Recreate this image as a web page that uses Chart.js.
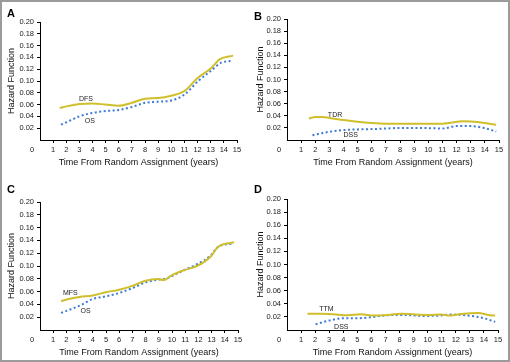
<!DOCTYPE html>
<html>
<head>
<meta charset="utf-8">
<script src="https://cdn.jsdelivr.net/npm/chart.js@4/dist/chart.umd.min.js"></script>
<style>
  body { margin: 0; background: #fff; }
  #marco { position: absolute; left: 0; top: 0; width: 510px; height: 362px; box-sizing: border-box; border: 2px solid #9b9b9b; }
  canvas { position: absolute; }
</style>
</head>
<body>
<div id="marco"></div>
<canvas id="chart_a" width="247" height="181" style="left:0;top:0"></canvas>
<canvas id="chart_b" width="263" height="181" style="left:247px;top:0"></canvas>
<canvas id="chart_c" width="247" height="181" style="left:0;top:181px"></canvas>
<canvas id="chart_d" width="263" height="181" style="left:247px;top:181px"></canvas>
<script>
// Panel A: DFS / OS
var aDfsYears  = [1.5, 2, 3, 4, 5, 6, 7, 8, 9, 10, 11, 12, 13, 13.7, 14.7];
var aDfsHazard = [0.054, 0.057, 0.061, 0.062, 0.060, 0.058, 0.063, 0.070, 0.071, 0.075, 0.083, 0.105, 0.121, 0.137, 0.143];
var aOsYears   = [1.6, 2, 3, 4, 5, 6, 7, 8, 9, 10, 11, 12, 13, 13.8, 14.6];
var aOsHazard  = [0.026, 0.030, 0.040, 0.046, 0.049, 0.051, 0.056, 0.063, 0.065, 0.067, 0.077, 0.099, 0.117, 0.131, 0.134];

// Panel B: TDR / DSS
var bTdrYears  = [1.55, 2, 2.5, 3, 4, 5, 6, 7, 8, 9, 10, 11, 11.7, 12.4, 13, 14, 14.8];
var bTdrHazard = [0.0355, 0.038, 0.038, 0.0365, 0.033, 0.030, 0.028, 0.027, 0.027, 0.027, 0.027, 0.0267, 0.029, 0.031, 0.0305, 0.028, 0.025];
var bDssYears  = [1.8, 3, 4, 5, 6, 7, 8, 9, 10, 11, 12, 13, 14, 14.8];
var bDssHazard = [0.008, 0.0136, 0.0164, 0.0175, 0.018, 0.019, 0.020, 0.020, 0.0196, 0.019, 0.023, 0.023, 0.0196, 0.014];

// Panel C: MFS / OS
var cMfsYears  = [1.6, 2.1, 3, 4, 5, 6, 7, 8, 8.9, 9.4, 9.9, 10.9, 11.9, 12.9, 13.5, 14.7];
var cMfsHazard = [0.045, 0.048, 0.0516, 0.054, 0.059, 0.063, 0.069, 0.077, 0.0795, 0.078, 0.0846, 0.0934, 0.100, 0.114, 0.130, 0.137];
var cOsYears   = [1.6, 3, 4, 5, 6, 7, 8, 8.9, 9.6, 10.15, 10.9, 11.9, 12.9, 13.5, 14.6];
var cOsHazard  = [0.0267, 0.038, 0.0484, 0.0526, 0.0578, 0.0655, 0.0743, 0.0785, 0.0805, 0.086, 0.0934, 0.103, 0.1157, 0.130, 0.135];

// Panel D: TTM / DSS
var dTtmYears  = [1.45, 2.4, 3.3, 4.3, 5.25, 6.2, 7.2, 8.1, 9.1, 10, 11, 11.5, 12.4, 13.6, 14.3, 14.8];
var dTtmHazard = [0.025, 0.025, 0.024, 0.0226, 0.024, 0.022, 0.023, 0.025, 0.0236, 0.023, 0.0236, 0.022, 0.0246, 0.026, 0.023, 0.022];
var dDssYears  = [2.03, 3.1, 4.06, 5, 6, 6.9, 7.9, 8.8, 9.8, 10.75, 11.7, 12.7, 13.4, 14.1, 14.8];
var dDssHazard = [0.0088, 0.015, 0.018, 0.018, 0.0195, 0.022, 0.023, 0.0225, 0.0215, 0.022, 0.0236, 0.0225, 0.0205, 0.0174, 0.0124];

var amarillo = '#cfbf2c';
var azul = '#3f7bd6';
var fuente = '"Liberation Sans", Arial, sans-serif';

Chart.defaults.font.family = fuente;
Chart.defaults.color = '#222';

function toPoints(xs, ys) {
  return xs.map(function(x, i) { return { x: x, y: ys[i] }; });
}

// panel letter, curve names and the shared "0" at the origin
var panelText = {
  id: 'panelText',
  afterDraw: function(chart, args, opts) {
    var ctx = chart.ctx;
    var xs = chart.scales.x, ys = chart.scales.y;
    ctx.save();
    ctx.fillStyle = '#000';
    ctx.font = 'bold 11px ' + fuente;
    ctx.textAlign = 'left';
    ctx.textBaseline = 'top';
    ctx.fillText(opts.letter, 7, opts.letterTop);

    ctx.fillStyle = '#222';
    ctx.font = '7.5px ' + fuente;
    ctx.textAlign = 'center';
    ctx.textBaseline = 'middle';
    ctx.fillText('0', xs.getPixelForValue(0) - 8, xs.top + opts.zeroOffset);

    ctx.font = '7px ' + fuente;
    opts.names.forEach(function(n) {
      ctx.fillText(n.text, xs.getPixelForValue(n.x), ys.getPixelForValue(n.y));
    });
    ctx.restore();
  }
};

function hazardChart(id, p) {
  var ctx = document.getElementById(id).getContext('2d');
  return new Chart(ctx, {
    type: 'line',
    data: {
      datasets: [
        { label: p.names[0].text, data: p.solid, borderColor: amarillo, borderWidth: 2,
          pointRadius: 0, cubicInterpolationMode: 'monotone', fill: false },
        { label: p.names[1].text, data: p.dotted, borderColor: azul, borderWidth: 2, borderDash: [2, 2.5],
          pointRadius: 0, cubicInterpolationMode: 'monotone', fill: false }
      ]
    },
    options: {
      responsive: false,
      animation: false,
      layout: { padding: { top: p.top, right: p.right, left: 0, bottom: 0 } },
      plugins: {
        legend: { display: false },
        tooltip: { enabled: false },
        panelText: { letter: p.letter, letterTop: p.letterTop, names: p.names, zeroOffset: 10 }
      },
      scales: {
        x: {
          type: 'linear', min: 0, max: 15,
          ticks: { stepSize: 1, autoSkip: false, maxRotation: 0, padding: 2, font: { size: 7.5 },
                   callback: function(v) { return v === 0 ? '' : v; } },
          grid: { drawOnChartArea: false, tickLength: 3,
                  color: function(c) { return c.tick && c.tick.value === 0 ? 'rgba(0,0,0,0)' : '#000'; } },
          border: { color: '#000', width: 1 },
          title: { display: true, text: 'Time From Random Assignment (years)', font: { size: 9 },
                   color: '#111', padding: { top: 0, bottom: p.xTitlePad } },
          afterFit: function(s) { s.height = p.xHeight; }
        },
        y: {
          min: 0, max: 0.2,
          ticks: { stepSize: 0.02, autoSkip: false, padding: 3, font: { size: 7.5 },
                   callback: function(v) { return Math.abs(v) < 1e-9 ? '' : v.toFixed(2); } },
          grid: { drawOnChartArea: false, tickLength: 3,
                  color: function(c) { return c.tick && Math.abs(c.tick.value) < 1e-9 ? 'rgba(0,0,0,0)' : '#000'; } },
          border: { color: '#000', width: 1 },
          title: { display: true, text: 'Hazard Function', font: { size: 9 },
                   color: '#111', padding: { top: p.yTitlePad, bottom: 0 } },
          afterFit: function(s) { s.width = 40; }
        }
      }
    },
    plugins: [panelText]
  });
}

hazardChart('chart_a', {
  letter: 'A', letterTop: 8, top: 22, right: 10, xHeight: 41, xTitlePad: 12.6, yTitlePad: 6.6,
  solid: toPoints(aDfsYears, aDfsHazard), dotted: toPoints(aOsYears, aOsHazard),
  names: [{ text: 'DFS', x: 3.5, y: 0.0695 }, { text: 'OS', x: 3.8, y: 0.032 }]
});

hazardChart('chart_b', {
  letter: 'B', letterTop: 11, top: 19, right: 11, xHeight: 41, xTitlePad: 12.6, yTitlePad: 8.1,
  solid: toPoints(bTdrYears, bTdrHazard), dotted: toPoints(bDssYears, bDssHazard),
  names: [{ text: 'TDR', x: 3.4, y: 0.042 }, { text: 'DSS', x: 4.5, y: 0.0074 }]
});

hazardChart('chart_c', {
  letter: 'C', letterTop: 3, top: 21, right: 9, xHeight: 32, xTitlePad: 3.6, yTitlePad: 6.6,
  solid: toPoints(cMfsYears, cMfsHazard), dotted: toPoints(cOsYears, cOsHazard),
  names: [{ text: 'MFS', x: 2.3, y: 0.057 }, { text: 'OS', x: 3.46, y: 0.0295 }]
});

hazardChart('chart_d', {
  letter: 'D', letterTop: 3, top: 18, right: 12, xHeight: 32, xTitlePad: 3.6, yTitlePad: 8.1,
  solid: toPoints(dTtmYears, dTtmHazard), dotted: toPoints(dDssYears, dDssHazard),
  names: [{ text: 'TTM', x: 2.8, y: 0.0316 }, { text: 'DSS', x: 3.86, y: 0.005 }]
});
</script>
</body>
</html>
